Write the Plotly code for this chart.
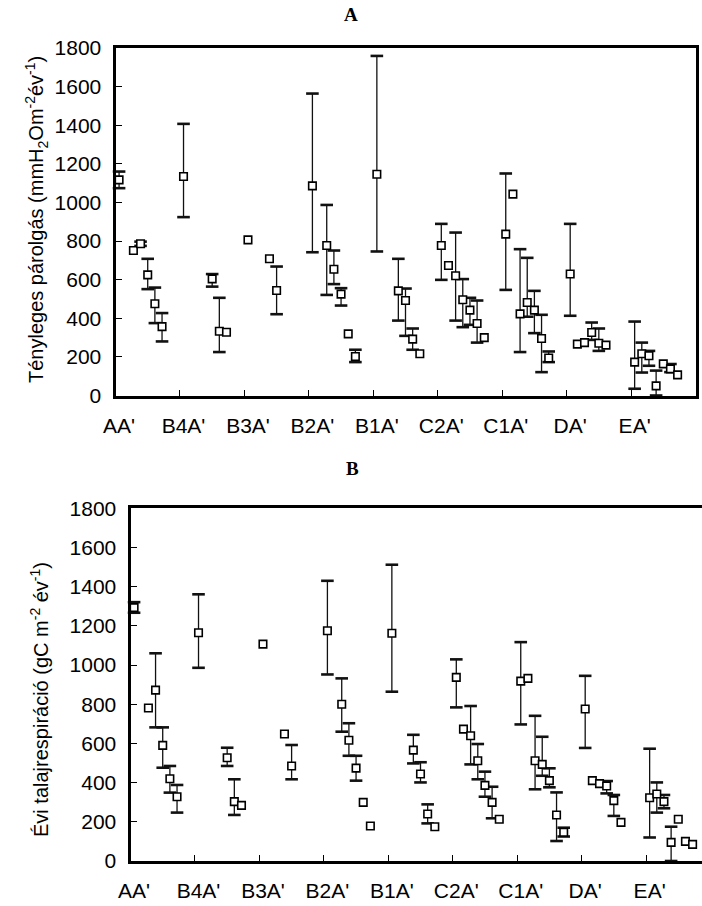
import plotly.graph_objects as go

# ---------------- data ----------------
groups = ["AA'", "B4A'", "B3A'", "B2A'", "B1A'", "C2A'", "C1A'", "DA'", "EA'"]
slots_per_group = 9

pt_group = [0, 0, 0, 0, 0, 0, 1, 1, 1, 1, 2, 2, 2, 3, 3, 3, 3, 3, 3, 4, 4, 4, 4, 4,
            5, 5, 5, 5, 5, 5, 5, 6, 6, 6, 6, 6, 6, 6, 7, 7, 7, 7, 7, 7, 8, 8, 8, 8, 8, 8, 8]
pt_slot = [0, 2, 3, 4, 5, 6, 0, 4, 5, 6, 0, 3, 4, 0, 2, 3, 4, 5, 6, 0, 3, 4, 5, 6,
           0, 1, 2, 3, 4, 5, 6, 0, 1, 2, 3, 4, 5, 6, 0, 1, 2, 3, 4, 5, 0, 1, 2, 3, 4, 5, 6]

# Panel A: Tényleges párolgás
A_val = [1117, 751, 786, 625, 475, 357,
         1134, 604, 333, 328,
         806, 708, 544,
         1086, 777, 654, 525, 319, 202,
         1146, 542, 492, 292, 216,
         777, 673, 620, 496, 442, 373, 300,
         836, 1043, 423, 482, 442, 295, 194,
         629, 266, 274, 326, 271, 261,
         173, 216, 206, 50, 164, 138, 107]
A_hi = [1160, None, 797, 708, 559, 427,
        1407, 629, 506, None,
        None, None, 668,
        1564, 987, 751, 556, None, 237,
        1759, 708, 554, 347, None,
        889, None, 844, 603, 506, 492, None,
        1150, None, 758, 713, 542, 418, 228,
        889, None, None, 378, 347, None,
        383, 274, 231, 129, None, 163, None]
A_lo = [1074, None, 775, 551, 375, 280,
        924, 564, 225, None,
        None, None, 421,
        742, 521, 577, 466, None, 173,
        746, 388, 309, 237, None,
        599, None, 388, 354, 366, 274, None,
        547, None, 225, 408, 323, 121, 173,
        413, None, None, 288, 231, None,
        35, 119, 154, 0, None, 121, None]

# Panel B: Évi talajrespiráció
B_val = [1293, 781, 872, 590, 420, 328,
         1165, 527, 303, 284,
         1107, 648, 485,
         1175, 800, 616, 474, 299, 179,
         1162, 566, 444, 240, 175,
         937, 673, 639, 512, 386, 299, 213,
         918, 932, 512, 493, 410, 235, 147,
         776, 410, 395, 383, 308, 197,
         323, 342, 303, 95, 213, 100, 85]
B_hi = [1321, None, 1060, 682, 485, 388,
        1361, 578, 417, None,
        None, None, 592,
        1430, 932, 703, 537, None, None,
        1512, 644, 504, 289, None,
        1029, None, 791, 597, 456, 379, None,
        1117, None, 741, 634, 473, 350, 170,
        945, None, None, 408, 337, None,
        573, 401, 337, 175, None, None, None]
B_lo = [1267, None, 682, 476, 349, 247,
        986, 485, 235, None,
        None, None, 417,
        952, 660, 537, 410, None, None,
        864, 498, 401, 192, None,
        784, None, 493, 417, 328, 218, None,
        697, None, 366, 435, 376, 102, 125,
        577, None, None, 345, 230, None,
        120, 247, 269, 0, None, None, None]

y_ticks = [0, 200, 400, 600, 800, 1000, 1200, 1400, 1600, 1800]

# ---------------- figure ----------------
W, H = 702, 906
FONT = "Liberation Sans, Arial, sans-serif"
SERIF = "Liberation Serif, Times New Roman, serif"

xpos = [g + (s + 0.5) / slots_per_group for g, s in zip(pt_group, pt_slot)]
label_pos = [i + 0.5 / slots_per_group for i in range(len(groups))]

fig = go.Figure()


def add_panel(vals, his, los, xa, ya):
    ex, ey, ep, em = [], [], [], []
    cx, cy = [], []
    for x, v, h, l in zip(xpos, vals, his, los):
        if h is not None:
            ex.append(x); ey.append(v); ep.append(h - v); em.append(v - l)
            cx += [x, x]; cy += [h, l]
    # error stems
    fig.add_trace(go.Scatter(
        x=ex, y=ey, mode="markers", xaxis=xa, yaxis=ya,
        marker=dict(size=1, color="rgba(0,0,0,0)"),
        error_y=dict(type="data", symmetric=False, array=ep, arrayminus=em,
                     color="#111", thickness=1.3, width=0),
        showlegend=False, hoverinfo="skip", cliponaxis=False))
    # caps
    fig.add_trace(go.Scatter(
        x=cx, y=cy, mode="markers", xaxis=xa, yaxis=ya,
        marker=dict(symbol="line-ew", size=9, line=dict(color="#111", width=2.6)),
        showlegend=False, hoverinfo="skip", cliponaxis=False))
    # points
    fig.add_trace(go.Scatter(
        x=xpos, y=vals, mode="markers", xaxis=xa, yaxis=ya,
        marker=dict(symbol="square", size=7.5, color="white",
                    line=dict(color="black", width=1.6)),
        showlegend=False, cliponaxis=False))


add_panel(A_val, A_hi, A_lo, "x", "y")
add_panel(B_val, B_hi, B_lo, "x2", "y2")

# geometry in pixels
A_left, A_right, A_top, A_bot = 115.5, 695.5, 48.0, 395.5
B_left, B_top, B_bot = 130.5, 508.3, 861.0
grp_px = (A_right - A_left) / 9.0
B_range_end = (W - B_left) / grp_px

common_x = dict(
    showgrid=False, zeroline=False, showline=True, linecolor="black", linewidth=3,
    automargin=False,
    tickmode="array", tickvals=label_pos, ticktext=groups, ticks="", ticklen=0,
    ticklabelstandoff=9,
    tickfont=dict(family=FONT, size=21, color="black"),
    minor=dict(tickmode="array", tickvals=list(range(1, 9)), ticks="inside",
               ticklen=6, tickwidth=1.2, tickcolor="black"),
)
common_y = dict(
    range=[0, 1800], showgrid=False, zeroline=False, showline=True,
    automargin=False,
    linecolor="black", linewidth=3, tickmode="array", tickvals=y_ticks,
    ticks="inside", ticklen=6, tickwidth=1.2, tickcolor="black",
    ticklabelstandoff=7,
    tickfont=dict(family=FONT, size=21, color="black"),
)

fig.update_layout(
    template="none",
    width=W, height=H, margin=dict(l=0, r=0, t=0, b=0, autoexpand=False),
    paper_bgcolor="white", plot_bgcolor="white",
    xaxis=dict(common_x, domain=[A_left / W, A_right / W], range=[0, 9],
               mirror=True, anchor="y"),
    yaxis=dict(common_y, domain=[1 - A_bot / H, 1 - A_top / H], mirror=True,
               anchor="x"),
    xaxis2=dict(common_x, domain=[B_left / W, 1.0], range=[0, B_range_end],
                mirror=True, anchor="y2"),
    yaxis2=dict(common_y, domain=[1 - B_bot / H, 1 - B_top / H], mirror=False,
                anchor="x2"),
    annotations=[
        dict(text="<b>A</b>", x=351 / W, y=1 - 15 / H, xref="paper", yref="paper",
             xanchor="center", yanchor="middle", showarrow=False,
             font=dict(family=SERIF, size=19, color="black")),
        dict(text="<b>B</b>", x=352 / W, y=1 - 468 / H, xref="paper", yref="paper",
             xanchor="center", yanchor="middle", showarrow=False,
             font=dict(family=SERIF, size=19, color="black")),
        dict(text="Tényleges párolgás (mmH<sub>2</sub>Om<sup>-2</sup>év<sup>-1</sup>)",
             x=36 / W, y=1 - 220 / H, xref="paper", yref="paper", textangle=-90,
             xanchor="center", yanchor="middle",
             showarrow=False, font=dict(family=FONT, size=20, color="black")),
        dict(text="Évi talajrespiráció (gC m<sup>-2</sup> év<sup>-1</sup>)",
             x=39 / W, y=1 - 700 / H, xref="paper", yref="paper", textangle=-90,
             xanchor="center", yanchor="middle",
             showarrow=False, font=dict(family=FONT, size=20, color="black")),
    ],
)

fig.write_html("out.html")
